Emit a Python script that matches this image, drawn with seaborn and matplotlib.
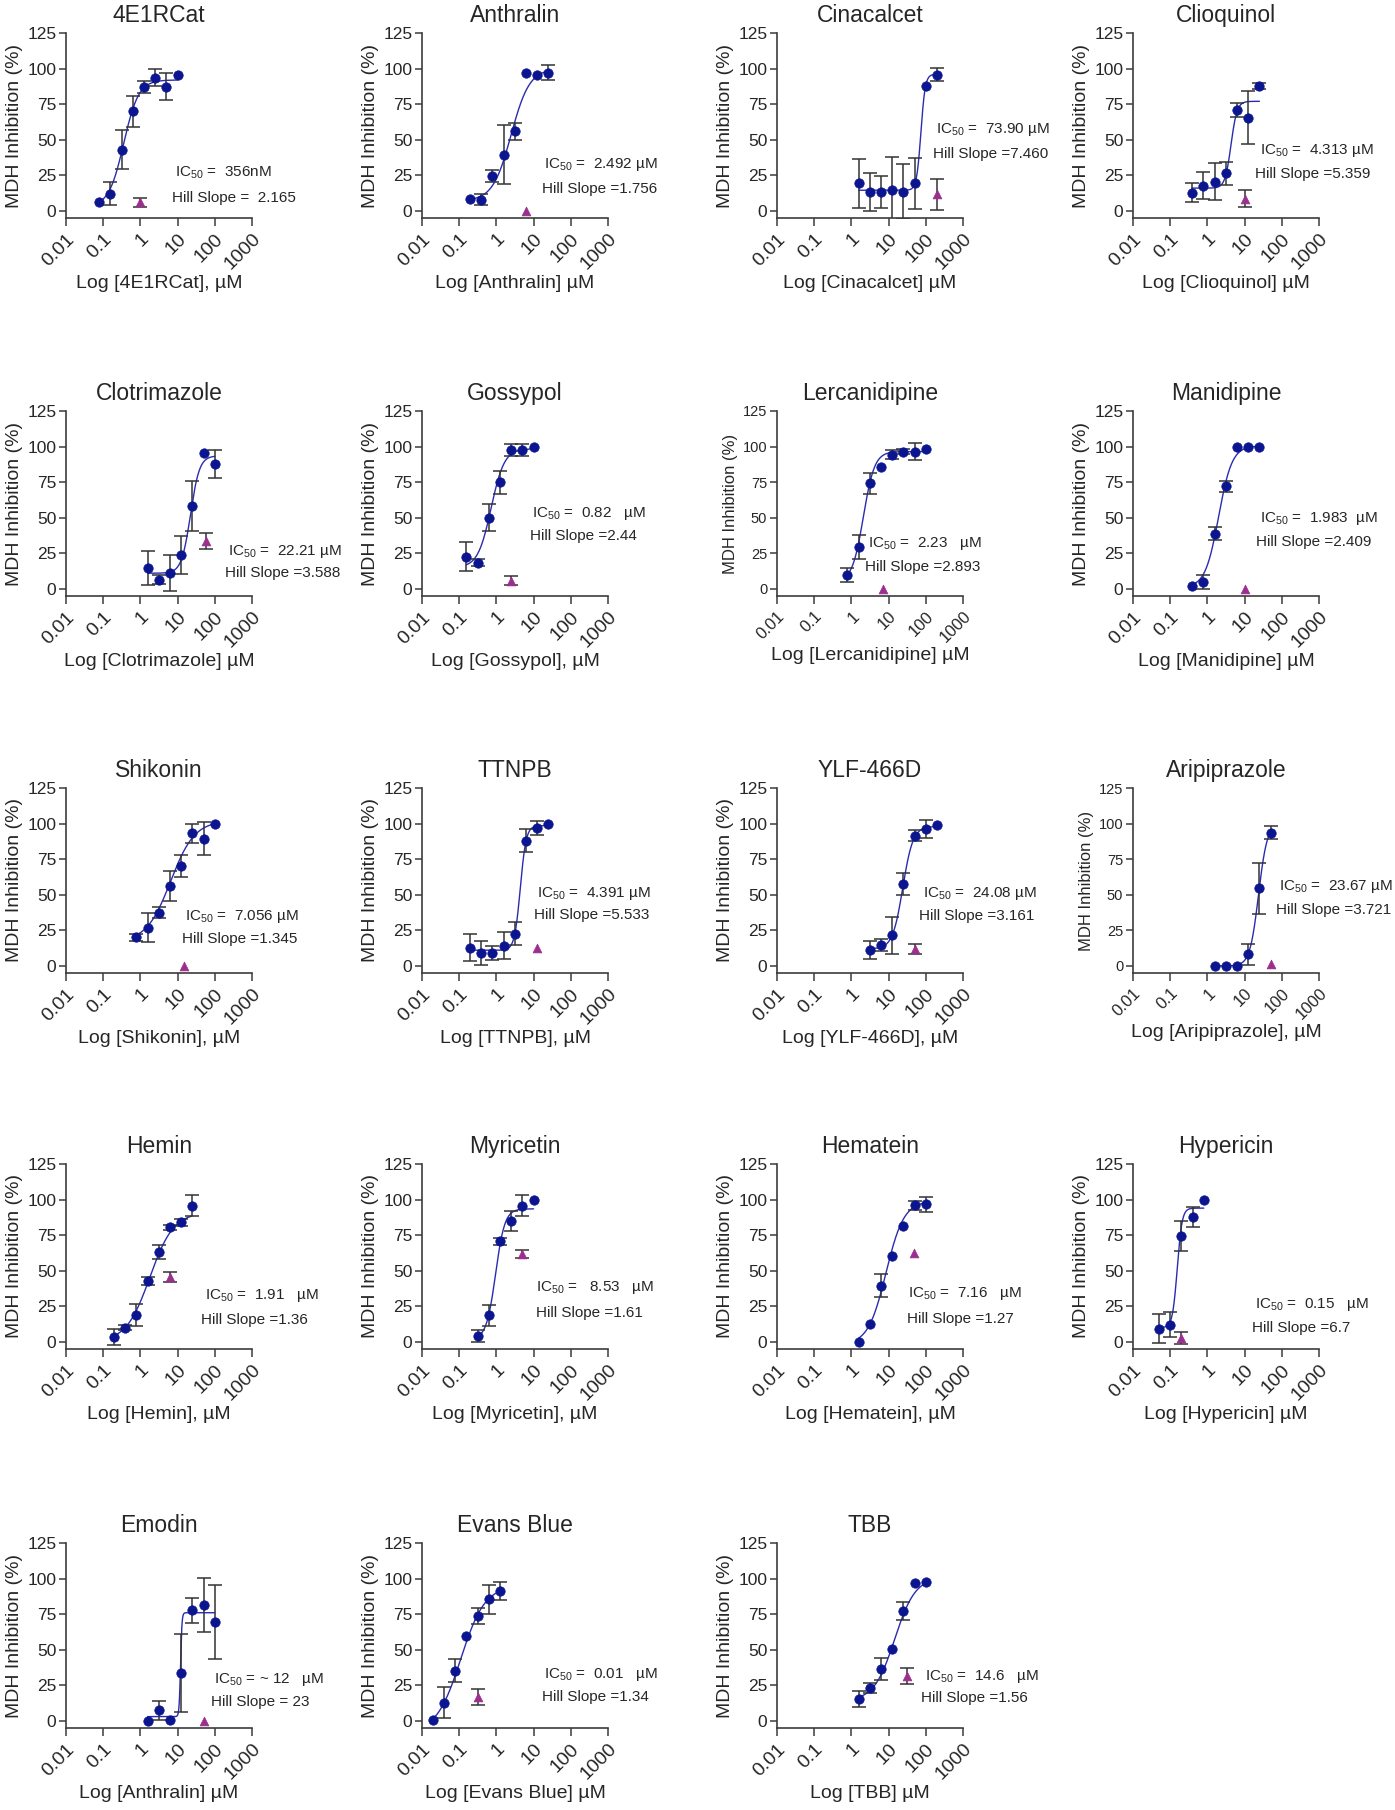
import numpy as np
import matplotlib
matplotlib.use("Agg")
import matplotlib.pyplot as plt
import seaborn as sns
from matplotlib.ticker import NullLocator

# ---- data ----
compounds = ["4E1RCat", "Anthralin", "Cinacalcet", "Clioquinol",
             "Clotrimazole", "Gossypol", "Lercanidipine", "Manidipine",
             "Shikonin", "TTNPB", "YLF-466D", "Aripiprazole",
             "Hemin", "Myricetin", "Hematein", "Hypericin",
             "Emodin", "Evans Blue", "TBB"]

xlabels = ["Log [4E1RCat], µM", "Log [Anthralin] µM", "Log [Cinacalcet] µM",
           "Log [Clioquinol] µM", "Log [Clotrimazole] µM", "Log [Gossypol], µM",
           "Log [Lercanidipine] µM", "Log [Manidipine] µM", "Log [Shikonin], µM",
           "Log [TTNPB], µM", "Log [YLF-466D], µM", "Log [Aripiprazole], µM",
           "Log [Hemin], µM", "Log [Myricetin], µM", "Log [Hematein], µM",
           "Log [Hypericin] µM", "Log [Anthralin] µM", "Log [Evans Blue] µM",
           "Log [TBB] µM"]

conc = [
    [0.078, 0.156, 0.3125, 0.625, 1.25, 2.5, 5, 10],
    [0.195, 0.39, 0.78, 1.56, 3.125, 6.25, 12.5, 25],
    [1.5625, 3.125, 6.25, 12.5, 25, 50, 100, 200],
    [0.39, 0.78, 1.56, 3.125, 6.25, 12.5, 25],
    [1.5625, 3.125, 6.25, 12.5, 25, 50, 100],
    [0.156, 0.3125, 0.625, 1.25, 2.5, 5, 10],
    [0.78, 1.56, 3.125, 6.25, 12.5, 25, 50, 100],
    [0.39, 0.78, 1.56, 3.125, 6.25, 12.5, 25],
    [0.78, 1.56, 3.125, 6.25, 12.5, 25, 50, 100],
    [0.195, 0.39, 0.78, 1.56, 3.125, 6.25, 12.5, 25],
    [3.125, 6.25, 12.5, 25, 50, 100, 200],
    [1.5625, 3.125, 6.25, 12.5, 25, 50],
    [0.195, 0.39, 0.78, 1.56, 3.125, 6.25, 12.5, 25],
    [0.3125, 0.625, 1.25, 2.5, 5, 10],
    [1.5625, 3.125, 6.25, 12.5, 25, 50, 100],
    [0.05, 0.1, 0.2, 0.4, 0.8],
    [1.5625, 3.125, 6.25, 12.5, 25, 50, 100],
    [0.0195, 0.039, 0.078, 0.156, 0.3125, 0.625, 1.25],
    [1.5625, 3.125, 6.25, 12.5, 25, 50, 100],
]

inhibition = [
    [6.5, 12, 43, 70, 87, 93.5, 87.4, 95.3],
    [8.2, 7.9, 24.5, 39.6, 56, 97.2, 95.6, 97.2],
    [19.5, 13.5, 13, 14.6, 13.3, 19.3, 88, 95.8],
    [12.8, 17.7, 20.5, 26.3, 71, 65.6, 87.7],
    [14.7, 6.5, 11, 23.8, 58.3, 95.8, 87.9],
    [22.7, 18.5, 50, 75, 97.7, 97.7, 100],
    [9.8, 29.6, 74.1, 85.8, 94.4, 96.5, 96.5, 98.1],
    [2.3, 4.9, 38.7, 72, 99.8, 99.8, 99.8],
    [20.1, 26.9, 37.4, 56, 70.3, 93.2, 89.3, 100],
    [12.9, 8.9, 8.9, 14.3, 22.7, 88, 96.9, 100],
    [11, 14.5, 21.7, 57.7, 91.6, 96.3, 98.8],
    [0, 0, 0, 8, 54.6, 93.7],
    [3.3, 10, 19.1, 42.9, 63.2, 80.4, 83.9, 95.8],
    [4.2, 18.6, 70.6, 85, 95.8, 100],
    [0, 12.8, 39.6, 60.6, 81.1, 96, 96.7],
    [9.3, 12.1, 74.5, 87.9, 100],
    [0, 7.5, 0.9, 33.8, 77.6, 81.4, 69.5],
    [0.7, 12.9, 35.3, 59.3, 73.8, 85.3, 91.1],
    [15.2, 22.9, 36.4, 50.5, 77.3, 97.2, 97.7],
]

sem = [
    [0, 8, 13.5, 11, 4.5, 6, 9.5, 0],
    [0, 3.7, 4.5, 21, 6, 0, 0, 5],
    [17.3, 13.4, 11.3, 23, 19.3, 18, 0, 4.8],
    [6.5, 9.3, 13, 7.8, 5, 18.3, 2.3],
    [12, 3.3, 12.5, 13.6, 17.5, 0, 10],
    [10.4, 2.6, 9.6, 8, 4.4, 4.2, 0],
    [4.9, 8.3, 7.6, 0, 3, 2, 5.7, 0],
    [0, 5.2, 4.7, 3.7, 0, 0, 0],
    [2.3, 10, 4.1, 10.5, 7.5, 6.5, 11.7, 0],
    [9.8, 8.4, 5, 9.6, 8.2, 8, 5.1, 0],
    [6.4, 4.1, 13, 7.6, 3.9, 6.4, 0],
    [0, 0, 0, 7.6, 18, 4.5],
    [5.8, 2, 7.8, 2.6, 4.7, 2, 2.6, 7.5],
    [4, 7.5, 2.3, 7, 7.2, 0],
    [0, 0, 8.4, 0, 0, 3.3, 5.4],
    [10, 8.6, 10.5, 7.2, 0],
    [0, 6.8, 0, 27.6, 8.5, 18.9, 26],
    [0, 10.9, 8.3, 0, 5.6, 10, 6.2],
    [5.5, 3.5, 7.6, 0, 6.4, 0, 0],
]

# control (triangle) point per compound
ctrl_conc = [1.0, 6.25, 200, 10, 57, 2.5, 7, 10, 15, 12.5, 50, 50,
             6.25, 5, 47, 0.2, 50, 0.3125, 31]
ctrl_inhib = [6, 0, 11.6, 8.6, 33.8, 5.8, 0, 0, 0, 12.9, 12, 1.2,
              45.5, 61.8, 62.2, 2.8, 0, 16.6, 31.5]
ctrl_sem = [3, 0, 11, 5.8, 5.8, 3, 0, 0, 0, 0, 3.5, 0,
            3.5, 3, 0, 4.4, 0, 5.7, 5.7]

# four-parameter fit curves (bottom, top, midpoint, Hill slope)
fit_bottom = [3, 7, 14.5, 16, 11, 15, 5, 1, 17, 11, 12, 0, 0, 2, -2, 10, 3, -8, 14]
fit_top = [92, 100, 96, 77, 93.5, 98.5, 96.5, 100.5, 102, 98.5, 98, 100,
           91, 93.5, 99, 94, 76, 95, 101]
fit_mid = [0.356, 2.49, 73.9, 4.313, 22.21, 0.72, 2.1, 2.0, 6.5, 4.391, 24.08,
           23.67, 1.8, 0.95, 8.5, 0.155, 12, 0.11, 14.6]
fit_hill = [2.165, 1.756, 7.46, 5.359, 3.588, 2.44, 2.893, 2.409, 1.345, 5.533,
            3.161, 3.721, 1.36, 3.5, 1.8, 6.7, 23, 1.34, 1.56]

ic50_labels = ["IC$_{50}$ =  356nM", "IC$_{50}$ =  2.492 µM", "IC$_{50}$ =  73.90 µM",
               "IC$_{50}$ =  4.313 µM", "IC$_{50}$ =  22.21 µM", "IC$_{50}$ =  0.82   µM",
               "IC$_{50}$ =  2.23   µM", "IC$_{50}$ =  1.983  µM", "IC$_{50}$ =  7.056 µM",
               "IC$_{50}$ =  4.391 µM", "IC$_{50}$ =  24.08 µM", "IC$_{50}$ =  23.67 µM",
               "IC$_{50}$ =  1.91   µM", "IC$_{50}$ =   8.53   µM", "IC$_{50}$ =  7.16   µM",
               "IC$_{50}$ =  0.15   µM", "IC$_{50}$ = ~ 12   µM", "IC$_{50}$ =  0.01   µM",
               "IC$_{50}$ =  14.6   µM"]
hill_labels = ["Hill Slope =  2.165", "Hill Slope =1.756", "Hill Slope =7.460",
               "Hill Slope =5.359", "Hill Slope =3.588", "Hill Slope =2.44",
               "Hill Slope =2.893", "Hill Slope =2.409", "Hill Slope =1.345",
               "Hill Slope =5.533", "Hill Slope =3.161", "Hill Slope =3.721",
               "Hill Slope =1.36", "Hill Slope =1.61", "Hill Slope =1.27",
               "Hill Slope =6.7", "Hill Slope = 23", "Hill Slope =1.34",
               "Hill Slope =1.56"]

x_ticks = [0.01, 0.1, 1, 10, 100, 1000]
x_ticklabels = ["0.01", "0.1", "1", "10", "100", "1000"]
y_ticks = [0, 25, 50, 75, 100, 125]

# ---- layout (pixels) ----
FIG_W, FIG_H = 1395, 1810
col_left = [66, 422, 777, 1133]
row_top = [33, 411, 788, 1164, 1543]
AX_W, AX_H = 186, 185
# (IC50 x, IC50 y, Hill x, Hill y) in axes fraction
note_pos = [(0.585, 0.243, 0.57, 0.108), (0.655, 0.29, 0.643, 0.158),
            (0.853, 0.477, 0.837, 0.348), (0.685, 0.366, 0.656, 0.24),
            (0.87, 0.243, 0.855, 0.122), (0.59, 0.446, 0.578, 0.326),
            (0.49, 0.283, 0.472, 0.157), (0.685, 0.418, 0.663, 0.292),
            (0.639, 0.306, 0.622, 0.186), (0.619, 0.432, 0.602, 0.312),
            (0.784, 0.428, 0.764, 0.306), (0.786, 0.466, 0.769, 0.342),
            (0.745, 0.287, 0.728, 0.158), (0.615, 0.332, 0.615, 0.194),
            (0.705, 0.30, 0.70, 0.16), (0.656, 0.239, 0.64, 0.113),
            (0.798, 0.263, 0.778, 0.138), (0.655, 0.29, 0.643, 0.165),
            (0.796, 0.281, 0.776, 0.161)]
small_panels = {"Lercanidipine", "Aripiprazole"}

DOT = "#0b1590"
CURVE = "#2a2cb0"
TRI = "#9a2f8e"
BAR = "#333333"
AXC = "#3c3c3c"


def hill_curve(x, bottom, top, mid, slope):
    return bottom + (top - bottom) / (1 + (mid / x) ** slope)


sns.set_theme(style="ticks")
plt.rcParams["font.family"] = ["Liberation Sans", "DejaVu Sans"]
plt.rcParams["mathtext.fontset"] = "custom"
plt.rcParams["mathtext.rm"] = "Liberation Sans"
plt.rcParams["mathtext.it"] = "Liberation Sans:italic"
plt.rcParams["mathtext.default"] = "regular"

fig = plt.figure(figsize=(FIG_W / 100, FIG_H / 100), dpi=100)
fig.patch.set_facecolor("white")

for i, name in enumerate(compounds):
    r, c = divmod(i, 4)
    left, top = col_left[c], row_top[r]
    ax = fig.add_axes([left / FIG_W, 1 - (top + AX_H) / FIG_H,
                       AX_W / FIG_W, AX_H / FIG_H])
    ax.set_xscale("log")
    small = name in small_panels
    xtick_fs = 12 if small else 14
    ytick_fs = 10.5 if small else 12.5
    ylab_fs = 12 if small else 14

    x = np.array(conc[i])
    y = np.array(inhibition[i])
    e = np.array(sem[i])

    # fitted curve over the tested range
    xs = np.geomspace(x.min(), x.max(), 300)
    ys = hill_curve(xs, fit_bottom[i], fit_top[i], fit_mid[i], fit_hill[i])
    sns.lineplot(x=xs, y=ys, ax=ax, color=CURVE, lw=1.0, sort=False, zorder=2)

    m = e > 0
    if m.any():
        ax.errorbar(x[m], y[m], yerr=e[m], fmt="none", ecolor=BAR,
                    elinewidth=1.1, capsize=5, capthick=1.1, zorder=3)
    sns.scatterplot(x=x, y=y, ax=ax, color=DOT, s=46, edgecolor=DOT,
                    linewidth=0.5, zorder=4)

    if ctrl_sem[i] > 0:
        ax.errorbar([ctrl_conc[i]], [ctrl_inhib[i]], yerr=[ctrl_sem[i]],
                    fmt="none", ecolor=BAR, elinewidth=1.1, capsize=5,
                    capthick=1.1, zorder=3)
    sns.scatterplot(x=[ctrl_conc[i]], y=[ctrl_inhib[i]], ax=ax, marker="^",
                    color=TRI, s=40, edgecolor=TRI, linewidth=0.5, zorder=4)

    ax.set_xlim(0.01, 1000)
    ax.set_ylim(-5, 125)
    ax.set_xticks(x_ticks)
    ax.set_xticklabels(x_ticklabels, rotation=45, ha="right", va="top",
                       rotation_mode="anchor", fontsize=xtick_fs)
    ax.xaxis.set_minor_locator(NullLocator())
    ax.set_yticks(y_ticks)
    ax.tick_params(axis="y", labelsize=ytick_fs, length=5, width=1.1,
                   color=AXC, pad=2)
    ax.tick_params(axis="x", length=6, width=1.1, color=AXC, pad=3)
    for s in ["left", "bottom"]:
        ax.spines[s].set_color(AXC)
        ax.spines[s].set_linewidth(1.2)
    sns.despine(ax=ax)
    ax.set_facecolor("white")

    ax.set_title(name, fontsize=16.5, pad=8)
    ax.set_xlabel(xlabels[i], fontsize=14, labelpad=1)
    ax.set_ylabel("MDH Inhibition (%)", fontsize=ylab_fs, labelpad=3)

    px, py, hx, hy = note_pos[i]
    ax.text(px, py, ic50_labels[i], transform=ax.transAxes, fontsize=11,
            ha="left", va="center", clip_on=False)
    ax.text(hx, hy, hill_labels[i], transform=ax.transAxes, fontsize=11,
            ha="left", va="center", clip_on=False)

fig.savefig("out.png", dpi=100, facecolor="white")
